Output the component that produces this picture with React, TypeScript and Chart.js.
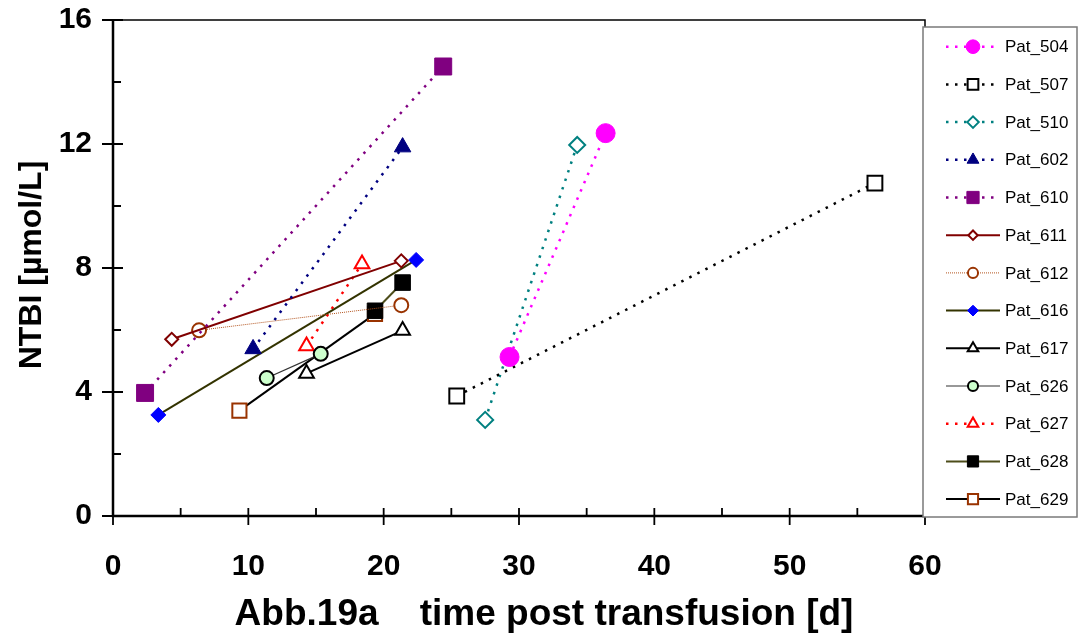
import React, { useEffect, useRef } from "react";
import { Chart, registerables } from "chart.js";
import { drawPoint } from "chart.js/helpers";

Chart.register(...registerables);

// ---- data (days post transfusion, NTBI µmol/L) ----
const seriesNames = [
  "Pat_504", "Pat_507", "Pat_510", "Pat_602", "Pat_610", "Pat_611", "Pat_612",
  "Pat_616", "Pat_617", "Pat_626", "Pat_627", "Pat_628", "Pat_629",
];
const days504 = [29.3, 36.4];
const ntbi504 = [5.13, 12.35];
const days507 = [25.4, 56.3];
const ntbi507 = [3.87, 10.74];
const days510 = [27.5, 34.3];
const ntbi510 = [3.1, 11.97];
const days602 = [10.35, 21.4];
const ntbi602 = [5.39, 11.9];
const days610 = [2.37, 24.4];
const ntbi610 = [3.97, 14.5];
const days611 = [4.34, 21.3];
const ntbi611 = [5.7, 8.23];
const days612 = [6.36, 21.3];
const ntbi612 = [5.99, 6.8];
const days616 = [3.35, 22.4];
const ntbi616 = [3.26, 8.26];
const days617 = [14.3, 21.4];
const ntbi617 = [4.6, 5.98];
const days626 = [11.36, 15.35];
const ntbi626 = [4.45, 5.23];
const days627 = [14.3, 18.4];
const ntbi627 = [5.48, 8.13];
const days628 = [19.36, 21.4];
const ntbi628 = [6.62, 7.53];
const days629 = [9.34, 19.36];
const ntbi629 = [3.4, 6.52];

const seriesDays = [days504, days507, days510, days602, days610, days611, days612, days616, days617, days626, days627, days628, days629];
const seriesNTBI = [ntbi504, ntbi507, ntbi510, ntbi602, ntbi610, ntbi611, ntbi612, ntbi616, ntbi617, ntbi626, ntbi627, ntbi628, ntbi629];

const xTickValues = [0, 10, 20, 30, 40, 50, 60];
const yTickValues = [0, 4, 8, 12, 16];
const xMinorValues = [5, 15, 25, 35, 45, 55];
const yMinorValues = [2, 6, 10, 14];

const xTitle = "Abb.19a    time post transfusion [d]";
const yTitle = "NTBI [µmol/L]";

// ---- styles ----
type Style = {
  line: string; width: number; dash: number[];
  marker: string; radius: number; fill: string; stroke: string; mbw: number;
};
const DOT = [2.5, 6.5];
const styles: Style[] = [
  { line: "#FF00FF", width: 2.5, dash: DOT, marker: "circle", radius: 9.5, fill: "#FF00FF", stroke: "#FF00FF", mbw: 1 },
  { line: "#000000", width: 2.5, dash: DOT, marker: "rect", radius: 10.5, fill: "#FFFFFF", stroke: "#000000", mbw: 2 },
  { line: "#008080", width: 2.5, dash: DOT, marker: "rectRot", radius: 8, fill: "#FFFFFF", stroke: "#008080", mbw: 2 },
  { line: "#000080", width: 2.5, dash: DOT, marker: "triangle", radius: 9.5, fill: "#000080", stroke: "#000080", mbw: 1 },
  { line: "#800080", width: 2.5, dash: DOT, marker: "rect", radius: 12, fill: "#800080", stroke: "#800080", mbw: 1 },
  { line: "#800000", width: 2, dash: [], marker: "rectRot", radius: 6.5, fill: "#FFFFFF", stroke: "#800000", mbw: 2 },
  { line: "#B3541E", width: 1, dash: [1, 1], marker: "circle", radius: 7, fill: "#FFFFFF", stroke: "#993300", mbw: 2 },
  { line: "#333300", width: 2, dash: [], marker: "rectRot", radius: 7.5, fill: "#0000FF", stroke: "#0000FF", mbw: 1 },
  { line: "#000000", width: 2, dash: [], marker: "triangle", radius: 8.5, fill: "#FFFFFF", stroke: "#000000", mbw: 2 },
  { line: "#333333", width: 1.2, dash: [], marker: "circle", radius: 7, fill: "#CCFFCC", stroke: "#000000", mbw: 2 },
  { line: "#FF0000", width: 2.5, dash: DOT, marker: "triangle", radius: 8.5, fill: "#FFFFFF", stroke: "#FF0000", mbw: 2 },
  { line: "#4D4D1A", width: 2, dash: [], marker: "rect", radius: 11, fill: "#000000", stroke: "#000000", mbw: 1 },
  { line: "#000000", width: 2, dash: [], marker: "rect", radius: 10, fill: "#FFFFFF", stroke: "#993300", mbw: 2 },
];

const FONT = '"Liberation Sans", Arial, sans-serif';

const framePlugin = {
  id: "frame",
  beforeDatasetsDraw(chart: any) {
    const ctx = chart.ctx;
    const { left, right, top, bottom } = chart.chartArea;
    const xs = chart.scales.x;
    const ys = chart.scales.y;
    ctx.save();
    ctx.strokeStyle = "#000";
    ctx.lineWidth = 1.5;
    ctx.beginPath();
    ctx.moveTo(left, top);
    ctx.lineTo(right, top);
    ctx.lineTo(right, bottom);
    ctx.stroke();
    ctx.lineWidth = 2.5;
    ctx.beginPath();
    ctx.moveTo(left, top);
    ctx.lineTo(left, bottom);
    ctx.lineTo(right, bottom);
    ctx.stroke();
    ctx.lineWidth = 1.8;
    ctx.beginPath();
    yTickValues.forEach((v) => {
      const p = ys.getPixelForValue(v);
      ctx.moveTo(left - 11, p);
      ctx.lineTo(left + 10, p);
    });
    yMinorValues.forEach((v) => {
      const p = ys.getPixelForValue(v);
      ctx.moveTo(left, p);
      ctx.lineTo(left + 8, p);
    });
    xTickValues.forEach((v) => {
      const p = xs.getPixelForValue(v);
      ctx.moveTo(p, bottom - 8);
      ctx.lineTo(p, bottom + 9);
    });
    xMinorValues.forEach((v) => {
      const p = xs.getPixelForValue(v);
      ctx.moveTo(p, bottom - 8);
      ctx.lineTo(p, bottom);
    });
    ctx.stroke();
    ctx.restore();
  },
  afterDraw(chart: any) {
    const ctx = chart.ctx;
    ctx.save();
    ctx.fillStyle = "#000";
    ctx.font = `bold 37px ${FONT}`;
    ctx.textAlign = "center";
    ctx.textBaseline = "alphabetic";
    ctx.fillText(xTitle, 544, 625);
    ctx.save();
    ctx.translate(41, 265);
    ctx.rotate(-Math.PI / 2);
    ctx.font = `bold 32px ${FONT}`;
    ctx.fillText(yTitle, 0, 0);
    ctx.restore();

    const bx = 923, by = 27, bw = 154, bh = 490;
    ctx.fillStyle = "#FFFFFF";
    ctx.fillRect(bx, by, bw, bh);
    ctx.strokeStyle = "#7a7a7a";
    ctx.lineWidth = 1.5;
    ctx.strokeRect(bx, by, bw, bh);

    ctx.font = `17px ${FONT}`;
    seriesNames.forEach((name, i) => {
      const s = styles[i];
      const cy = 46.7 + i * 37.7;
      ctx.save();
      ctx.strokeStyle = s.line;
      ctx.lineWidth = s.width;
      ctx.setLineDash(s.dash);
      ctx.beginPath();
      ctx.moveTo(946, cy);
      ctx.lineTo(1000, cy);
      ctx.stroke();
      ctx.restore();
      ctx.save();
      ctx.setLineDash([]);
      ctx.fillStyle = s.fill;
      ctx.strokeStyle = s.stroke;
      ctx.lineWidth = s.mbw;
      drawPoint(ctx, { pointStyle: s.marker, rotation: 0, radius: s.radius * 0.72, borderWidth: s.mbw }, 973, cy);
      ctx.restore();
      ctx.fillStyle = "#000";
      ctx.textAlign = "left";
      ctx.textBaseline = "middle";
      ctx.fillText(name, 1005, cy + 1);
    });
    ctx.restore();
  },
};

export default function App() {
  const ref = useRef<HTMLCanvasElement | null>(null);
  useEffect(() => {
    if (!ref.current) return;
    const datasets = seriesNames.map((name, i) => {
      const s = styles[i];
      return {
        label: name,
        data: seriesDays[i].map((d, k) => ({ x: d, y: seriesNTBI[i][k] })),
        showLine: true,
        borderColor: s.line,
        borderWidth: s.width,
        borderDash: s.dash,
        pointStyle: s.marker,
        pointRadius: s.radius,
        pointBackgroundColor: s.fill,
        pointBorderColor: s.stroke,
        pointBorderWidth: s.mbw,
        fill: false,
      };
    });
    const tickFont = { family: FONT, size: 30, weight: "bold" as const };
    const chart = new Chart(ref.current, {
      type: "scatter",
      data: { datasets },
      plugins: [framePlugin],
      options: {
        animation: false,
        responsive: false,
        layout: { padding: { left: 0, right: 155, top: 20, bottom: 0 } },
        plugins: { legend: { display: false }, tooltip: { enabled: false } },
        scales: {
          x: {
            type: "linear",
            min: 0,
            max: 60,
            afterBuildTicks: (s: any) => { s.ticks = xTickValues.map((v) => ({ value: v })); },
            afterFit: (s: any) => { s.height = 121; s.paddingLeft = 0; s.paddingRight = 0; },
            ticks: { font: tickFont, color: "#000", padding: 33, maxRotation: 0 },
            grid: { display: false, drawTicks: false },
            border: { display: false },
          },
          y: {
            type: "linear",
            min: 0,
            max: 16,
            afterBuildTicks: (s: any) => { s.ticks = yTickValues.map((v) => ({ value: v })); },
            afterFit: (s: any) => { s.width = 113; s.paddingTop = 0; s.paddingBottom = 0; },
            ticks: { font: tickFont, color: "#000", padding: 21 },
            grid: { display: false, drawTicks: false },
            border: { display: false },
          },
        },
      },
    } as any);
    return () => chart.destroy();
  }, []);
  return (
    <div style={{ position: "fixed", left: 0, top: 0, width: 1080, height: 637, background: "#fff" }}>
      <canvas ref={ref} width={1080} height={637} />
    </div>
  );
}
